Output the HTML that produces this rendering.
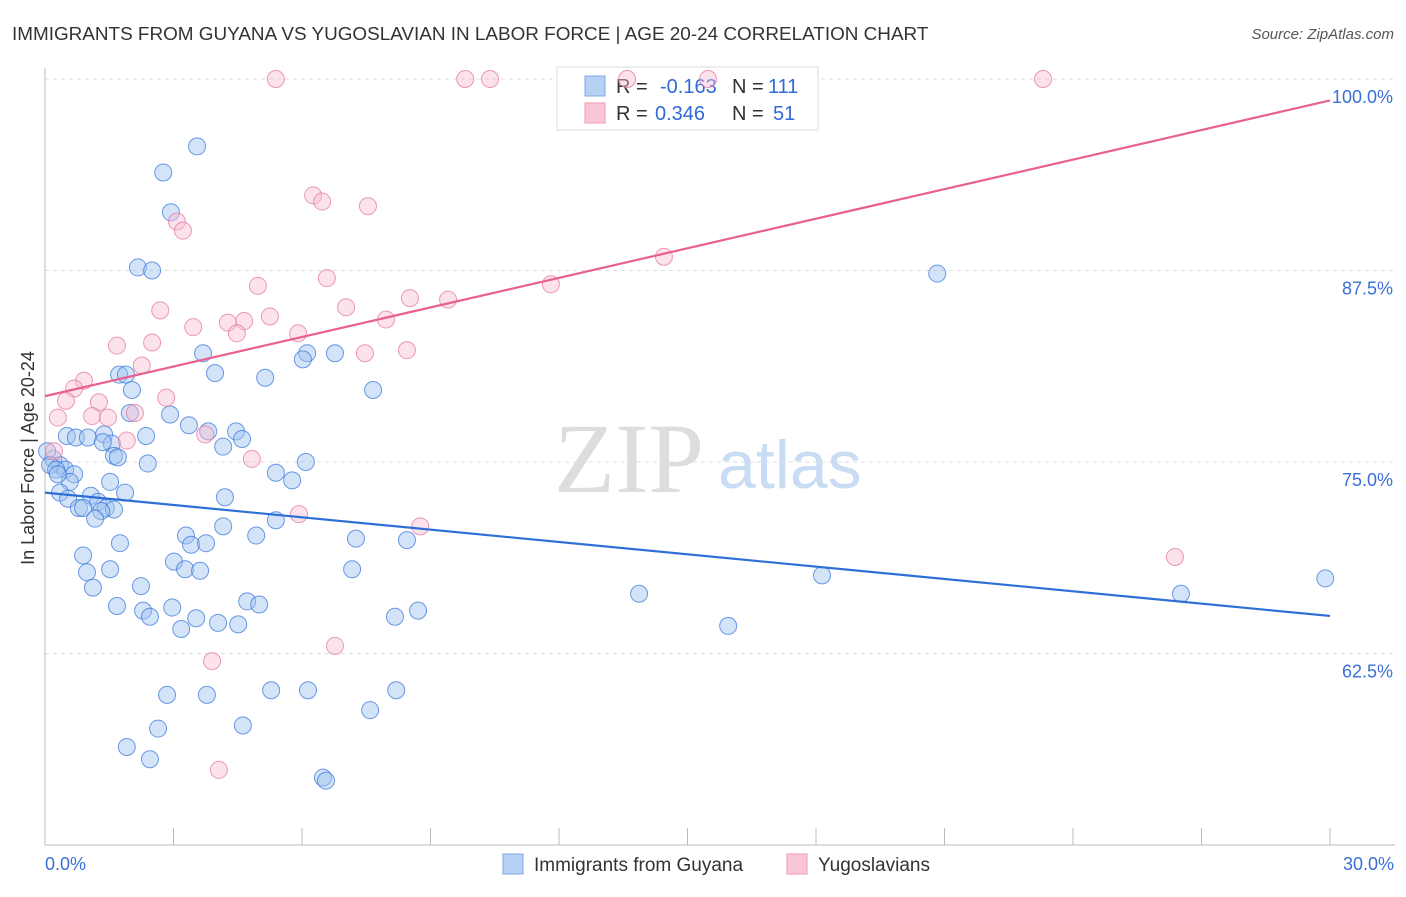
<!DOCTYPE html>
<html><head><meta charset="utf-8"><style>
body{margin:0;background:#fff;font-family:"Liberation Sans",sans-serif;}
svg text{font-family:"Liberation Sans",sans-serif;}
</style></head><body>
<svg id="chart" width="1406" height="892">
<text x="12" y="40" font-size="18.9" fill="#333">IMMIGRANTS FROM GUYANA VS YUGOSLAVIAN IN LABOR FORCE | AGE 20-24 CORRELATION CHART</text>
<text x="1394" y="39" font-size="15" fill="#555" font-style="italic" text-anchor="end">Source: ZipAtlas.com</text>
<text x="554" y="492" font-size="100" fill="#ddd" style="font-family:'Liberation Serif',serif">ZIP</text>
<text x="718" y="488" font-size="68" fill="#c8dcf3">atlas</text>
<g id="grid"></g>
<g id="axes"></g>
<g>
<rect x="557" y="67" width="261" height="63" fill="#fff" stroke="#ddd"/>
<rect x="585" y="76" width="20" height="20" fill="#b7d1f4" stroke="#7fa8e8"/>
<rect x="585" y="103" width="20" height="20" fill="#f8c6d6" stroke="#ee9ab6"/>
<text x="616" y="93" font-size="20" fill="#333">R = <tspan fill="#2f6ad8" x="660">-0.163</tspan></text>
<text x="732" y="93" font-size="20" fill="#333">N = <tspan fill="#2f6ad8" x="768">111</tspan></text>
<text x="616" y="120" font-size="20" fill="#333">R = <tspan fill="#2f6ad8" x="655">0.346</tspan></text>
<text x="732" y="120" font-size="20" fill="#333">N = <tspan fill="#2f6ad8" x="773">51</tspan></text>
</g>
<g id="pts"></g>
<g id="lines"></g>
<text x="34" y="458" font-size="18" fill="#333" text-anchor="middle" transform="rotate(-90 34 458)">In Labor Force | Age 20-24</text>
<text x="45" y="870" font-size="18" fill="#3a6fd8">0.0%</text>
<text x="1394" y="870" font-size="18" fill="#3a6fd8" text-anchor="end">30.0%</text>
<g>
<rect x="503" y="854" width="20" height="20" fill="#b7d1f4" stroke="#7fa8e8"/>
<text x="534" y="871" font-size="19" fill="#333">Immigrants from Guyana</text>
<rect x="787" y="854" width="20" height="20" fill="#f8c6d6" stroke="#ee9ab6"/>
<text x="818" y="871" font-size="19" fill="#333">Yugoslavians</text>
</g>
</svg>
<script>
const yTicks=[100,87.5,75,62.5];
const yTickLabels=["100.0%","87.5%","75.0%","62.5%"];
const xTicks=[3,6,9,12,15,18,21,24,27,30];
const blueX=[3.55,2.76,2.94,2.17,2.50,20.83,3.69,6.12,6.77,6.02,1.73,1.89,3.97,5.14,7.66,2.03,1.98,2.92,3.36,3.81,4.46,0.51,0.72,1.00,1.38,2.36,4.60,1.56,1.35,4.16,1.61,1.70,2.40,6.09,0.19,0.35,0.47,0.68,0.58,5.39,5.77,1.52,0.35,0.54,1.07,1.24,1.87,4.20,0.79,0.89,1.42,1.61,1.31,1.17,5.39,4.16,3.29,7.26,8.45,4.93,1.75,3.41,3.76,0.89,3.01,3.27,3.62,1.52,0.98,7.17,18.14,29.89,2.24,1.12,13.87,26.52,4.72,5.00,1.68,2.97,2.29,2.45,8.17,8.71,3.53,4.04,4.51,3.18,15.95,2.85,3.78,5.28,6.14,8.20,7.59,2.64,4.62,1.91,2.45,6.49,6.56,0.05,0.12,0.26,0.30];
const blueY=[95.6,93.9,91.3,87.7,87.5,87.3,82.1,82.1,82.1,81.7,80.7,80.7,80.8,80.5,79.7,79.7,78.2,78.1,77.4,77.0,77.0,76.7,76.6,76.6,76.8,76.7,76.5,76.2,76.3,76.0,75.4,75.3,74.9,75.0,75.2,74.8,74.5,74.2,73.7,74.3,73.8,73.7,73.0,72.6,72.8,72.4,73.0,72.7,72.0,72.0,72.0,71.9,71.8,71.3,71.2,70.8,70.2,70.0,69.9,70.2,69.7,69.6,69.7,68.9,68.5,68.0,67.9,68.0,67.8,68.0,67.6,67.4,66.9,66.8,66.4,66.4,65.9,65.7,65.6,65.5,65.3,64.9,64.9,65.3,64.8,64.5,64.4,64.1,64.3,59.8,59.8,60.1,60.1,60.1,58.8,57.6,57.8,56.4,55.6,54.4,54.2,75.7,74.8,74.5,74.2];
const pinkX=[5.39,9.81,10.39,13.59,15.48,23.30,6.26,6.47,7.54,3.08,3.22,6.58,4.97,14.45,11.81,8.52,9.41,2.69,7.03,5.25,4.65,4.27,3.46,4.48,7.96,5.91,2.50,1.68,8.45,7.47,2.26,0.91,0.68,0.49,1.26,2.83,0.30,1.10,1.47,2.10,3.74,1.91,4.83,0.21,5.93,8.76,26.38,3.90,6.77,4.06];
const pinkY=[100,100,100,100,100,100,92.4,92.0,91.7,90.7,90.1,87.0,86.5,88.4,86.6,85.7,85.6,84.9,85.1,84.5,84.2,84.1,83.8,83.4,84.3,83.4,82.8,82.6,82.3,82.1,81.3,80.3,79.8,79.0,78.9,79.2,77.9,78.0,77.9,78.2,76.8,76.4,75.2,75.7,71.6,70.8,68.8,62.0,63.0,54.9];
const blueLine=[73.0,64.95];
const pinkLine=[79.3,98.6];
const lineX=[0,30];
const NS="http://www.w3.org/2000/svg";
function sx(v){return 45+v/30*1285;}
function sy(v){return 79+(100-v)/12.5*191.5;}
function mk(t,a,p){const e=document.createElementNS(NS,t);for(const k in a)e.setAttribute(k,a[k]);p.appendChild(e);return e;}
const grid=document.getElementById('grid'),axes=document.getElementById('axes'),pts=document.getElementById('pts'),lines=document.getElementById('lines');
yTicks.forEach((t,i)=>{
 const l=mk('line',{x1:45,x2:1395,y1:sy(t),y2:sy(t),stroke:'#ddd','stroke-dasharray':'4,4'},grid);
 
 
 const tx=mk('text',{x:1393,y:sy(t)+24,'font-size':18,fill:'#3a6fd8','text-anchor':'end'},grid);
 tx.textContent=yTickLabels[i];
 
 
});
const ya=mk('line',{x1:45,x2:45,y1:68,y2:845,stroke:'#bbb'},axes);


const xa=mk('line',{x1:45,x2:1395,y1:845,y2:845,stroke:'#bbb'},axes);


xTicks.forEach(t=>{
 const l=mk('line',{x1:sx(t),x2:sx(t),y1:828,y2:845,stroke:'#bbb'},axes);
 
 
});
blueX.forEach((x,i)=>{
 const c=mk('circle',{cx:sx(x),cy:sy(blueY[i]),r:8.5,fill:'rgba(160,196,240,0.45)',stroke:'rgba(60,120,220,0.75)','stroke-width':1},pts);
 
 
});
pinkX.forEach((x,i)=>{
 const c=mk('circle',{cx:sx(x),cy:sy(pinkY[i]),r:8.5,fill:'rgba(248,190,210,0.45)',stroke:'rgba(230,120,160,0.75)','stroke-width':1},pts);
 
 
});
const bl=mk('line',{x1:sx(lineX[0]),y1:sy(blueLine[0]),x2:sx(lineX[1]),y2:sy(blueLine[1]),stroke:'#2d6fd6','stroke-width':2.2},lines);


const pl=mk('line',{x1:sx(lineX[0]),y1:sy(pinkLine[0]),x2:sx(lineX[1]),y2:sy(pinkLine[1]),stroke:'#e8608e','stroke-width':2.2},lines);


</script>
</body></html>
